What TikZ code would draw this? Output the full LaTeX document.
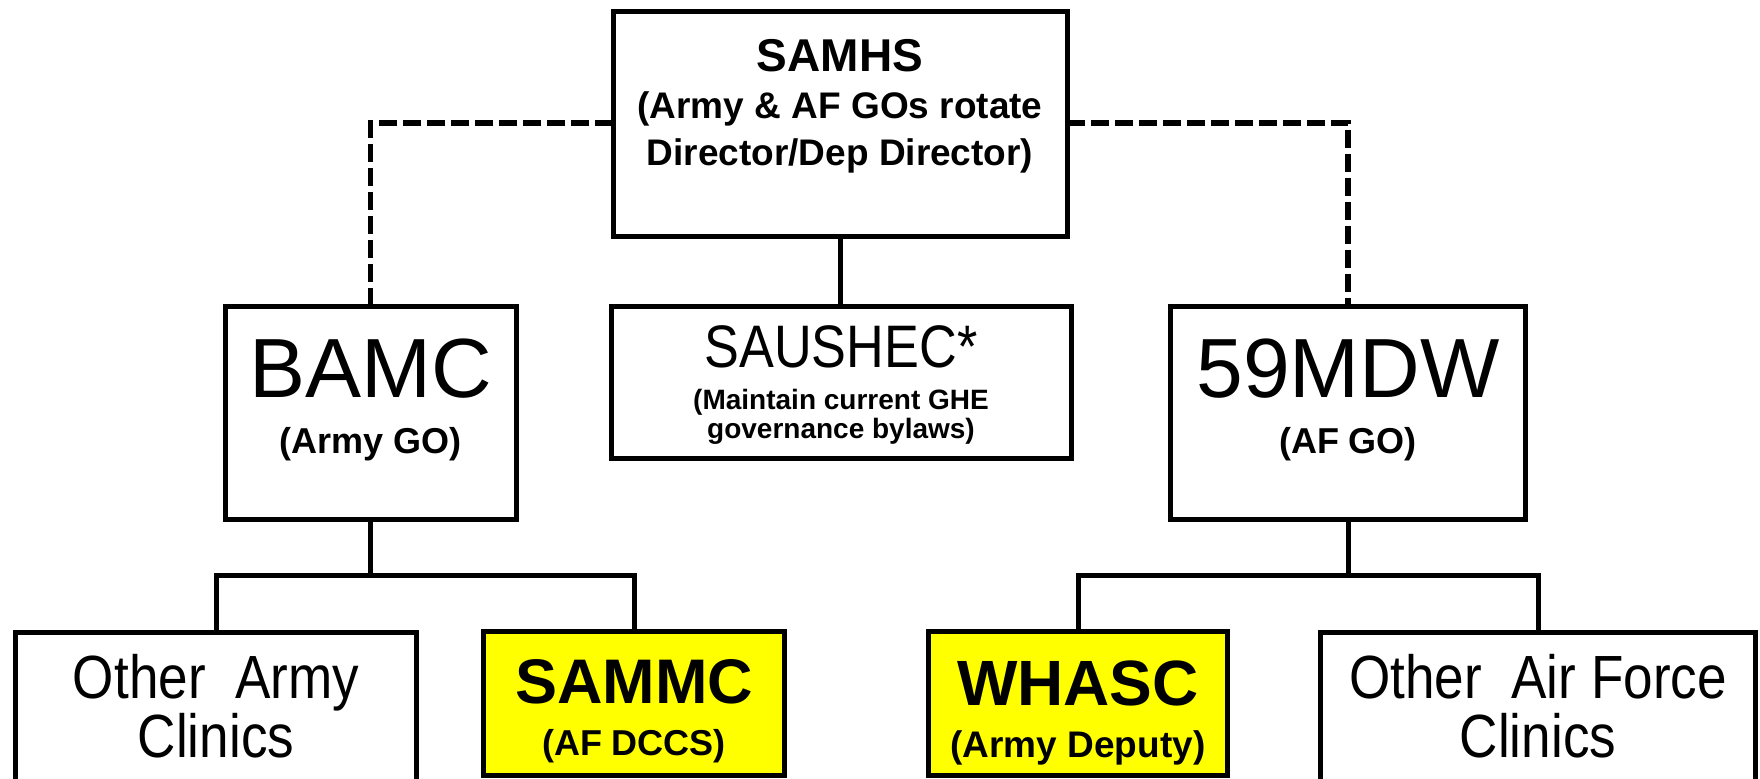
\documentclass[tikz,border=0pt]{standalone}
\usepackage{fontspec}
\setmainfont{Liberation Sans}
\newfontfamily\condfont[FakeStretch=0.87]{Liberation Sans}
\definecolor{boxyellow}{HTML}{FFFF00}
\begin{document}
\begin{tikzpicture}[x=0.5pt,y=-0.5pt,
  box/.style={draw=black, line width=2.5pt, rectangle, inner sep=0pt, outer sep=0pt, fill=white},
  ybox/.style={box, fill=boxyellow},
  conn/.style={draw=black, line width=2.5pt, line join=miter},
  dashconn/.style={draw=black, line width=2.6pt, dash pattern=on 9pt off 3pt},
  txt/.style={anchor=base, inner sep=0pt, outer sep=0pt}]
\useasboundingbox (0,0) rectangle (1760,779);
\clip (0,0) rectangle (1760,779);
\fill[white] (0,0) rectangle (1760,779);

% boxes
\node[box, minimum width=227pt, minimum height=112.25pt] (samhs) at (840,124) {};
\node[box, minimum width=230pt, minimum height=76pt] (saushec) at (841,383) {};
\node[box, minimum width=145.5pt, minimum height=106.5pt] (bamc) at (370.5,413.5) {};
\node[box, minimum width=177.5pt, minimum height=106.5pt] (mdw) at (1348,413.5) {};
\node[box, minimum width=200.5pt, minimum height=83.75pt] (oarmy) at (216,716) {};
\node[ybox, minimum width=150.25pt, minimum height=71.5pt] (sammc) at (634,703.5) {};
\node[ybox, minimum width=149.25pt, minimum height=71.5pt] (whasc) at (1078,703.5) {};
\node[box, minimum width=217.75pt, minimum height=83.75pt] (oaf) at (1538,716) {};

% connectors
\draw[dashconn] (samhs.west |- 0,123) -| (bamc.north);
\draw[dashconn] (samhs.east |- 0,123) -| (mdw.north);
\draw[conn] (samhs.south) -- (samhs.south |- saushec.north);
\draw[conn] (bamc.south) -- (bamc.south |- 0,576);
\draw[conn] (oarmy.north) -- (oarmy.north |- 0,576) -- (sammc.north |- 0,576) -- (sammc.north);
\draw[conn] (mdw.south) -- (mdw.south |- 0,576);
\draw[conn] (whasc.north) -- (whasc.north |- 0,576) -- (oaf.north |- 0,576) -- (oaf.north);

% texts
\node[txt] (t1) at (840,72) {\fontsize{23pt}{23pt}\selectfont\bfseries SAMHS};
\node[txt] (t2) at (840,119) {\fontsize{18.5pt}{18.5pt}\selectfont\bfseries (Army \& AF GOs rotate};
\node[txt] (t3) at (840,166) {\fontsize{18.5pt}{18.5pt}\selectfont\bfseries Director/Dep Director)};

\node[txt] (t4) at (370.5,398) {\fontsize{42pt}{42pt}\selectfont BAMC};
\node[txt] (t5) at (370.5,454) {\fontsize{18pt}{18pt}\selectfont\bfseries (Army GO)};

\node[txt] (t6) at (1348,398) {\fontsize{42pt}{42pt}\selectfont 59MDW};
\node[txt] (t7) at (1348,454) {\fontsize{18pt}{18pt}\selectfont\bfseries (AF GO)};

\node[txt] (t8) at (841,368) {\fontsize{30pt}{30pt}\selectfont\condfont SAUSHEC*};
\node[txt] (t9) at (841,410) {\fontsize{14pt}{14pt}\selectfont\bfseries (Maintain current GHE};
\node[txt] (t10) at (841,439) {\fontsize{14pt}{14pt}\selectfont\bfseries governance bylaws)};

\node[txt] (t11) at (216,698) {\fontsize{30.5pt}{30.5pt}\selectfont\condfont Other~~Army};
\node[txt] (t12) at (216,757) {\fontsize{30.5pt}{30.5pt}\selectfont\condfont Clinics};

\node[txt] (t13) at (634,703) {\fontsize{31.5pt}{31.5pt}\selectfont\bfseries SAMMC};
\node[txt] (t14) at (634,755) {\fontsize{18pt}{18pt}\selectfont\bfseries (AF DCCS)};

\node[txt] (t15) at (1078,705) {\fontsize{32pt}{32pt}\selectfont\bfseries WHASC};
\node[txt] (t16) at (1078,757) {\fontsize{18.5pt}{18.5pt}\selectfont\bfseries (Army Deputy)};

\node[txt] (t17) at (1538,698) {\fontsize{30.5pt}{30.5pt}\selectfont\condfont Other~~Air Force};
\node[txt] (t18) at (1538,757) {\fontsize{30.5pt}{30.5pt}\selectfont\condfont Clinics};
\end{tikzpicture}
\end{document}
